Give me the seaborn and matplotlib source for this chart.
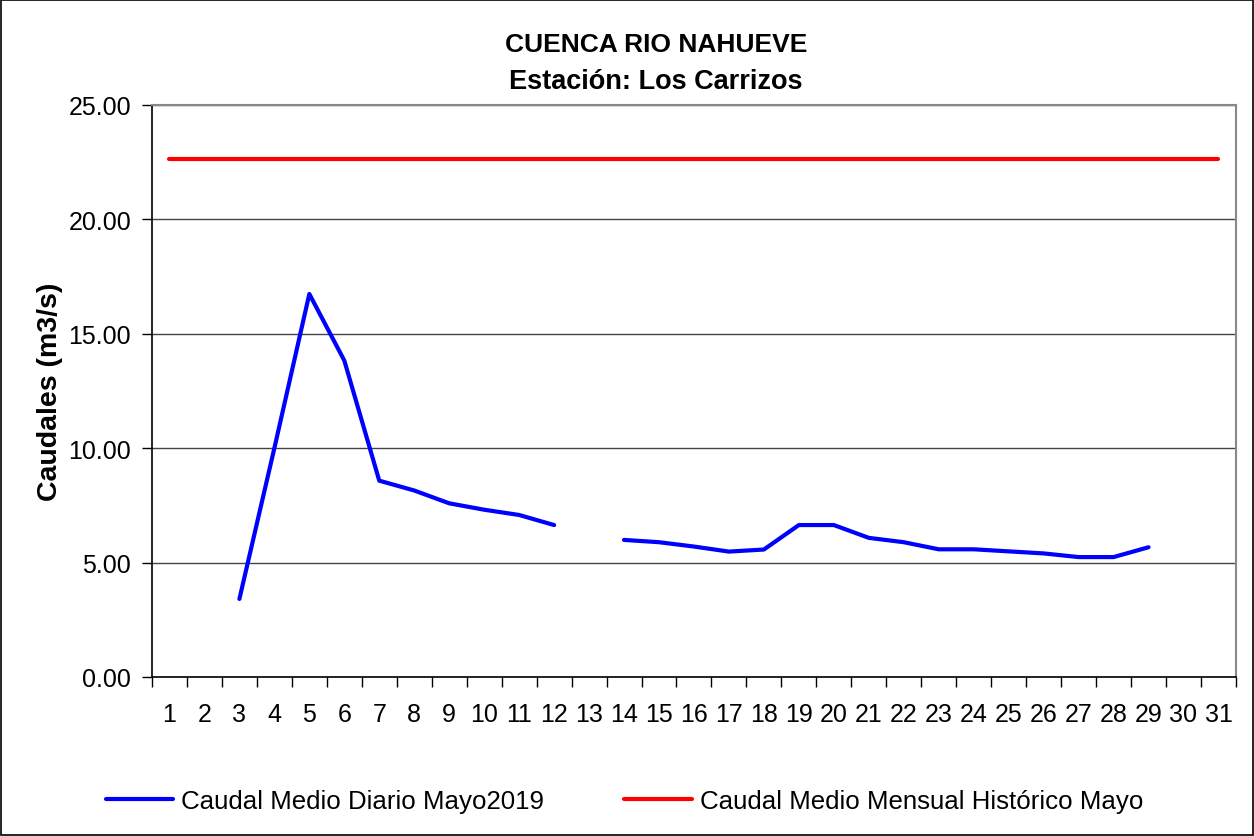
import numpy as np
import pandas as pd
import matplotlib
matplotlib.use('Agg')
import matplotlib.pyplot as plt
import seaborn as sns
from matplotlib.patches import Rectangle
from matplotlib.ticker import FixedLocator, FuncFormatter

# --- DATOS ---
dias = list(range(1, 32))
caudal_diario = [np.nan, np.nan, 3.41, 10.0, 16.74, 13.83, 8.58, 8.15, 7.59, 7.31,
                 7.08, 6.64, np.nan, 5.99, 5.89, 5.70, 5.48, 5.57, 6.64, 6.64,
                 6.08, 5.89, 5.58, 5.58, 5.49, 5.40, 5.24, 5.24, 5.67, np.nan, np.nan]
caudal_historico = 22.64

serie_diaria = "Caudal Medio Diario Mayo2019"
serie_historica = "Caudal Medio Mensual Histórico Mayo"

df = pd.DataFrame({'dia': dias, 'caudal': caudal_diario})
# tramos para que el hueco del dia 13 no se una
df['tramo'] = df['caudal'].isna().cumsum()
df = df.dropna()
df_hist = pd.DataFrame({'dia': dias, 'caudal': [caudal_historico] * len(dias)})

sns.set_style('white', {'text.color': 'black', 'axes.labelcolor': 'black',
                        'xtick.color': 'black', 'ytick.color': 'black'})
plt.rcParams['font.family'] = ['Liberation Sans', 'DejaVu Sans']

fig = plt.figure(figsize=(12.54, 8.37), dpi=100)
ax = fig.add_axes([0.1212, 0.19, 0.8644, 0.6834])

sns.lineplot(data=df, x='dia', y='caudal', units='tramo', estimator=None,
             color='#0000FF', linewidth=3, ax=ax)
sns.lineplot(data=df_hist, x='dia', y='caudal', color='#FF0000', linewidth=3, ax=ax)

ax.set_xlim(0.5, 31.5)
ax.set_ylim(0, 25)
ax.set_yticks([0, 5, 10, 15, 20, 25])
ax.yaxis.set_major_formatter(FuncFormatter(lambda v, p: f"{v:.2f}"))
ax.set_xticks(dias)
ax.set_xticklabels([str(d) for d in dias])
ax.xaxis.set_minor_locator(FixedLocator(np.arange(0.5, 32, 1)))
ax.tick_params(axis='x', which='major', length=0, pad=18, labelsize=18)
ax.tick_params(axis='x', which='minor', length=7, width=1, direction='out', color='black', bottom=True)
ax.tick_params(axis='y', length=7, width=1, direction='out', color='black', left=True, labelsize=18, pad=8)

ax.yaxis.grid(True, color='#444444', linewidth=1)
ax.xaxis.grid(False)
ax.set_axisbelow(True)
for s in ['top', 'right']:
    ax.spines[s].set_color('#888888')
    ax.spines[s].set_linewidth(1.5)
for s in ['left', 'bottom']:
    ax.spines[s].set_color('black')
    ax.spines[s].set_linewidth(1.2)

ax.set_xlabel('')
ax.set_ylabel('Caudales (m3/s)', fontsize=20.5, fontweight='bold', labelpad=4)

fig.text(0.523, 0.946, 'CUENCA RIO NAHUEVE', ha='center', va='center',
         fontsize=19, fontweight='bold')
fig.text(0.523, 0.902, 'Estación: Los Carrizos', ha='center', va='center',
         fontsize=19.5, fontweight='bold')

lineas = ax.get_lines()
ax.legend([lineas[0], lineas[-1]], [serie_diaria, serie_historica],
          loc='center', bbox_to_anchor=(0.498, 0.042), bbox_transform=fig.transFigure,
          ncol=2, frameon=False, fontsize=18.6, handlelength=2.6, columnspacing=3.1,
          handletextpad=0.32)

fig.add_artist(Rectangle((0.001, 0.001), 0.998, 0.998, transform=fig.transFigure,
                         fill=False, edgecolor='black', linewidth=1.2))

fig.savefig('out.png', dpi=100)
